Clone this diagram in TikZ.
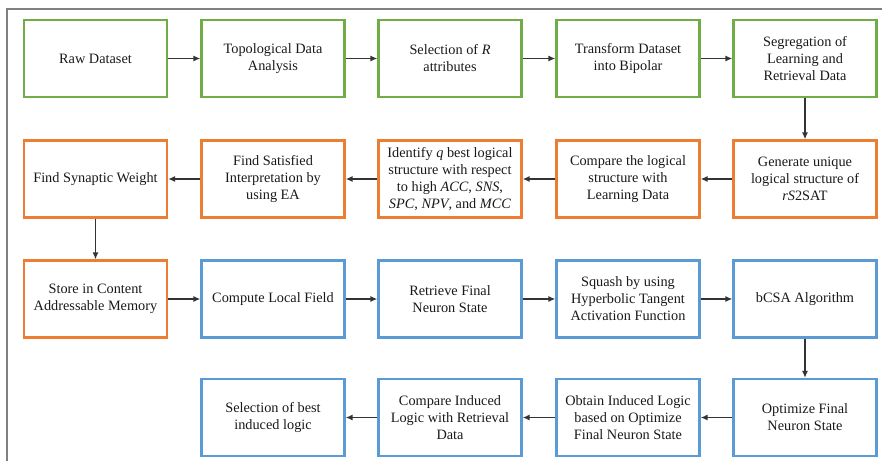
\documentclass[tikz,border=0pt]{standalone}
\usepackage{fontspec}
\setmainfont{Liberation Serif}
\usetikzlibrary{arrows.meta}
\definecolor{prepgreen}{HTML}{70AD47}
\definecolor{learnorange}{HTML}{ED7D31}
\definecolor{retrblue}{HTML}{5B9BD5}
\begin{document}
\begin{tikzpicture}[x=1pt,y=-1pt]

\tikzset{stage/.style={rectangle,draw,line width=2.2pt,minimum width=143pt,minimum height=77pt,inner sep=2pt,align=center,font=\fontsize{14.3}{17}\selectfont,text=black!90},}
\tikzset{prepnode/.style={stage,draw=prepgreen},learnnode/.style={stage,draw=learnorange},retrnode/.style={stage,draw=retrblue}}
\tikzset{flow/.style={-{Latex[length=7pt,width=6pt]},line width=1.5pt,black!80}}

  \useasboundingbox (0,0) rectangle (882,461);
  \draw[gray,line width=1.5pt] (882,9) -- (7,9) -- (7,461);

  % row 1
  \draw (95.5,58.5) node[prepnode](raw) {Raw Dataset};
  \draw (273,58.5) node[prepnode](tda) {Topological Data\\Analysis};
  \draw (450,58.5) node[prepnode](select) {Selection of \textit{R}\\attributes};
  \draw (628,58.5) node[prepnode](bipolar) {Transform Dataset\\into Bipolar};
  \draw (805,58.5) node[prepnode](segregate) {Segregation of\\Learning and\\Retrieval Data};

  % row 2
  \draw (805,179) node[learnnode](generate) {Generate unique\\logical structure of\\\textit{rS}2SAT};
  \draw (628,179) node[learnnode](compare) {Compare the logical\\structure with\\Learning Data};
  \draw (450,179) node[learnnode](identify) {Identify \textit{q} best logical\\structure with respect\\to high \textit{ACC}, \textit{SNS},\\\textit{SPC}, \textit{NPV}, and \textit{MCC}};
  \draw (273,179) node[learnnode](satisfy) {Find Satisfied\\Interpretation by\\using EA};
  \draw (95.5,179) node[learnnode](weight) {Find Synaptic Weight};

  % row 3
  \draw (95.5,299) node[learnnode](store) {Store in Content\\Addressable Memory};
  \draw (273,299) node[retrnode](field) {Compute Local Field};
  \draw (450,299) node[retrnode](retrieve) {Retrieve Final\\Neuron State};
  \draw (628,299) node[retrnode](squash) {Squash by using\\Hyperbolic Tangent\\Activation Function};
  \draw (805,299) node[retrnode](bcsa) {bCSA Algorithm};

  % row 4
  \draw (805,417.5) node[retrnode](optimize) {Optimize Final\\Neuron State};
  \draw (628,417.5) node[retrnode](obtain) {Obtain Induced Logic\\based on Optimize\\Final Neuron State};
  \draw (450,417.5) node[retrnode](induced) {Compare Induced\\Logic with Retrieval\\Data};
  \draw (273,417.5) node[retrnode](best) {Selection of best\\induced logic};

  %edges
    \draw[flow] (raw) -- (tda);
    \draw[flow] (tda) -- (select);
    \draw[flow] (select) -- (bipolar);
    \draw[flow] (bipolar) -- (segregate);
    \draw[flow] (segregate) -- (generate);

    \draw[flow] (generate) -- (compare);
    \draw[flow] (compare) -- (identify);
    \draw[flow] (identify) -- (satisfy);
    \draw[flow] (satisfy) -- (weight);
    \draw[flow] (weight) -- (store);

    \draw[flow] (store) -- (field);
    \draw[flow] (field) -- (retrieve);
    \draw[flow] (retrieve) -- (squash);
    \draw[flow] (squash) -- (bcsa);
    \draw[flow] (bcsa) -- (optimize);

    \draw[flow] (optimize) -- (obtain);
    \draw[flow] (obtain) -- (induced);
    \draw[flow] (induced) -- (best);

\end{tikzpicture}
\end{document}
